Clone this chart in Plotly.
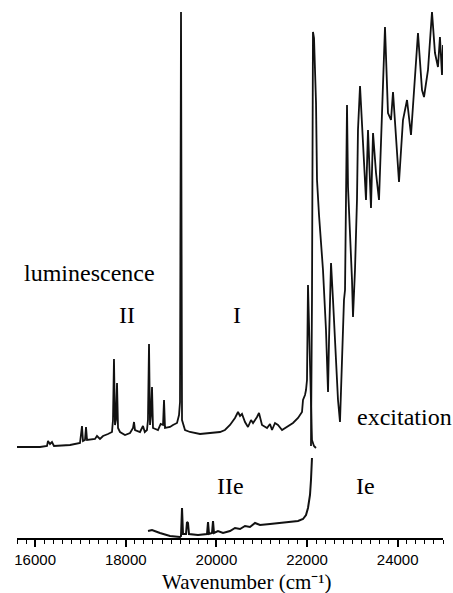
import plotly.graph_objects as go

# ---------------- data (wavenumber in cm-1, intensity in arbitrary units) ----------------
lum_wn = [15600, 16108, 16262, 16284, 16328, 16372, 16416, 16770, 16990, 17034, 17056, 17100,
          17123, 17145, 17321, 17365, 17431, 17498, 17608, 17696, 17718, 17740, 17762, 17784,
          17807, 17829, 17873, 17983, 18094, 18160, 18182, 18204, 18314, 18380, 18420, 18468,
          18490, 18513, 18535, 18557, 18579, 18601, 18711, 18770, 18822, 18844, 18866, 18976,
          19042, 19131, 19175, 19197, 19219, 19241, 19307, 19417, 19638, 19925, 20079, 20189,
          20300, 20410, 20477, 20521, 20565, 20631, 20697, 20764, 20808, 20896, 20940, 21006,
          21117, 21183, 21227, 21293, 21359, 21448, 21558, 21690, 21801, 21889, 21911, 21955,
          21977, 21999, 22021, 22043, 22065, 22087, 22109, 22153, 22197]
lum_int = [91, 91, 92, 97, 94, 96, 92, 93, 95, 112, 97, 98,
           111, 98, 99, 102, 99, 102, 104, 106, 118, 179, 113, 118,
           155, 110, 106, 103, 105, 110, 116, 108, 106, 112, 106, 108,
           118, 194, 113, 123, 151, 110, 108, 114, 113, 138, 110, 111,
           113, 115, 123, 136, 526, 118, 108, 106, 104, 105, 106, 108,
           113, 120, 126, 122, 124, 116, 111, 118, 115, 121, 125, 113,
           110, 114, 108, 115, 113, 108, 111, 115, 120, 126, 138, 143,
           148, 158, 253, 208, 158, 118, 98, 92, 90]

exc_wn = [22087, 22109, 22131, 22154, 22198, 22220, 22264, 22308, 22352, 22418, 22463, 22485,
          22529, 22573, 22639, 22683, 22727, 22771, 22815, 22838, 22860, 22882, 22904, 22948,
          22992, 23014, 23058, 23102, 23124, 23169, 23235, 23301, 23345, 23411, 23456, 23522,
          23588, 23654, 23720, 23786, 23853, 23897, 23985, 24029, 24117, 24206, 24294, 24360,
          24448, 24537, 24581, 24669, 24757, 24823, 24889, 24933, 24978, 25000]
exc_int = [92, 238, 506, 500, 435, 358, 323, 298, 268, 208, 146, 198,
           275, 238, 178, 138, 116, 178, 238, 248, 338, 433, 351, 308,
           258, 221, 268, 338, 408, 452, 398, 338, 408, 330, 405, 365,
           338, 425, 511, 425, 418, 446, 378, 356, 418, 438, 403, 445,
           505, 448, 441, 468, 526, 485, 471, 501, 463, 493]

exc2_wn = [18491, 18579, 18755, 18976, 19197, 19219, 19241, 19263, 19329, 19351, 19373, 19395,
           19594, 19793, 19815, 19837, 19903, 19925, 19947, 20035, 20146, 20300, 20410, 20521,
           20631, 20741, 20852, 20962, 21183, 21403, 21624, 21801, 21911, 21977, 22021, 22065,
           22087, 22109]
exc2_int = [7, 8, 5, 2, 1, 2, 30, 4, 4, 16, 15, 4,
            3, 4, 16, 4, 5, 17, 5, 7, 5, 7, 10, 9,
            12, 11, 15, 13, 14, 15, 16, 17, 19, 23, 30, 43,
            58, 80]

x_ticks = [16000, 18000, 20000, 22000, 24000]
x_tick_text = ["16000", "18000", "20000", "22000", "24000"]

# ---------------- figure ----------------
W, H = 453, 593
ML, MR, MT, MB = 17, 10, 0, 55
line = dict(color="#111111", width=1.8)

fig = go.Figure()
fig.add_trace(go.Scatter(x=lum_wn, y=lum_int, mode="lines", line=line, showlegend=False))
fig.add_trace(go.Scatter(x=exc_wn, y=exc_int, mode="lines", line=line, showlegend=False))
fig.add_trace(go.Scatter(x=exc2_wn, y=exc2_int, mode="lines", line=dict(color="#111111", width=2),
                         showlegend=False))

serif = "Liberation Serif, Times New Roman, serif"
pw, ph = W - ML - MR, H - MT - MB


def px2paper(px, py):
    return (px - ML) / pw, (H - MB - py) / ph


labels = [("luminescence", 89, 273), ("II", 127, 315), ("I", 237, 315),
          ("excitation", 404, 417), ("IIe", 230, 486), ("Ie", 365, 486)]
for txt, px, py in labels:
    xp, yp = px2paper(px, py)
    fig.add_annotation(text=txt, x=xp, y=yp, xref="paper", yref="paper", showarrow=False,
                       xanchor="center", yanchor="middle",
                       font=dict(family=serif, size=24, color="black"))

xp, yp = px2paper(247, 582)
fig.add_annotation(text="Wavenumber (cm\u207b\u00b9)", x=xp, y=yp, xref="paper", yref="paper",
                   showarrow=False, xanchor="center", yanchor="middle",
                   font=dict(family=serif, size=21, color="black"))

fig.update_layout(
    width=W, height=H,
    margin=dict(l=ML, r=MR, t=MT, b=MB, pad=0),
    paper_bgcolor="white", plot_bgcolor="white",
    xaxis=dict(range=[15600, 25000], showgrid=False, zeroline=False,
               showline=True, linecolor="black", linewidth=2,
               tickmode="array", tickvals=x_ticks, ticktext=x_tick_text,
               ticks="outside", ticklen=7, tickwidth=1.6, tickcolor="black",
               ticklabelstandoff=0,
               tickfont=dict(family="Liberation Sans, Arial, sans-serif", size=15, color="black"),
               minor=dict(dtick=200, tick0=15600, ticks="outside", ticklen=4, tickwidth=1.4,
                          tickcolor="black", showgrid=False)),
    yaxis=dict(range=[0, 538], visible=False, showgrid=False, zeroline=False),
)

fig.write_html("out.html")
